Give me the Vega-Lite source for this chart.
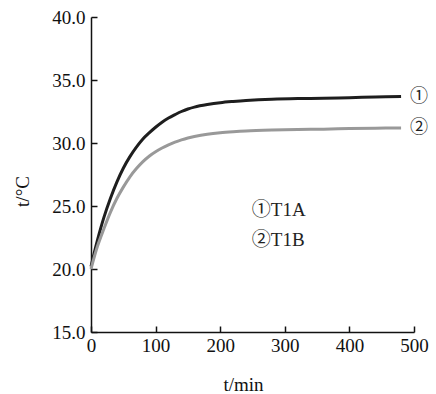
{
  "$schema": "https://vega.github.io/schema/vega-lite/v6.json",
  "width": 323,
  "height": 315,
  "autosize": {"type": "none"},
  "padding": {"left": 91, "top": 17, "right": 22, "bottom": 62},
  "background": "white",
  "config": {
    "view": {"stroke": null},
    "axis": {
      "grid": false,
      "domainColor": "#111111",
      "domainWidth": 1.5,
      "tickColor": "#111111",
      "tickWidth": 1.5,
      "tickSize": -6,
      "labelFlush": false,
      "labelOverlap": false,
      "labelFont": "Liberation Serif",
      "labelFontSize": 19,
      "labelColor": "#111111",
      "titleFont": "Liberation Serif",
      "titleFontSize": 19,
      "titleFontWeight": "normal",
      "titleColor": "#111111"
    }
  },
  "datasets": {
    "curves": [
      {"series": "T1A", "t": 0, "temp": 20.2},
      {"series": "T1A", "t": 10, "temp": 22.3},
      {"series": "T1A", "t": 20, "temp": 24.1},
      {"series": "T1A", "t": 30, "temp": 25.6},
      {"series": "T1A", "t": 40, "temp": 26.9},
      {"series": "T1A", "t": 50, "temp": 28.0},
      {"series": "T1A", "t": 60, "temp": 28.9},
      {"series": "T1A", "t": 70, "temp": 29.65},
      {"series": "T1A", "t": 80, "temp": 30.3},
      {"series": "T1A", "t": 90, "temp": 30.8},
      {"series": "T1A", "t": 100, "temp": 31.25},
      {"series": "T1A", "t": 110, "temp": 31.65},
      {"series": "T1A", "t": 120, "temp": 31.98},
      {"series": "T1A", "t": 130, "temp": 32.25},
      {"series": "T1A", "t": 140, "temp": 32.5},
      {"series": "T1A", "t": 150, "temp": 32.7},
      {"series": "T1A", "t": 160, "temp": 32.85},
      {"series": "T1A", "t": 180, "temp": 33.05},
      {"series": "T1A", "t": 200, "temp": 33.2},
      {"series": "T1A", "t": 220, "temp": 33.3},
      {"series": "T1A", "t": 240, "temp": 33.38},
      {"series": "T1A", "t": 280, "temp": 33.48},
      {"series": "T1A", "t": 320, "temp": 33.53},
      {"series": "T1A", "t": 360, "temp": 33.55},
      {"series": "T1A", "t": 400, "temp": 33.6},
      {"series": "T1A", "t": 440, "temp": 33.65},
      {"series": "T1A", "t": 480, "temp": 33.7},
      {"series": "T1B", "t": 0, "temp": 20.0},
      {"series": "T1B", "t": 10, "temp": 21.8},
      {"series": "T1B", "t": 20, "temp": 23.2},
      {"series": "T1B", "t": 30, "temp": 24.5},
      {"series": "T1B", "t": 40, "temp": 25.6},
      {"series": "T1B", "t": 50, "temp": 26.5},
      {"series": "T1B", "t": 60, "temp": 27.3},
      {"series": "T1B", "t": 70, "temp": 27.95},
      {"series": "T1B", "t": 80, "temp": 28.5},
      {"series": "T1B", "t": 90, "temp": 28.95},
      {"series": "T1B", "t": 100, "temp": 29.3},
      {"series": "T1B", "t": 110, "temp": 29.6},
      {"series": "T1B", "t": 120, "temp": 29.85},
      {"series": "T1B", "t": 130, "temp": 30.07},
      {"series": "T1B", "t": 140, "temp": 30.25},
      {"series": "T1B", "t": 150, "temp": 30.4},
      {"series": "T1B", "t": 160, "temp": 30.52},
      {"series": "T1B", "t": 180, "temp": 30.7},
      {"series": "T1B", "t": 200, "temp": 30.82},
      {"series": "T1B", "t": 220, "temp": 30.9},
      {"series": "T1B", "t": 240, "temp": 30.96},
      {"series": "T1B", "t": 280, "temp": 31.03},
      {"series": "T1B", "t": 320, "temp": 31.08},
      {"series": "T1B", "t": 360, "temp": 31.1},
      {"series": "T1B", "t": 400, "temp": 31.15},
      {"series": "T1B", "t": 440, "temp": 31.18},
      {"series": "T1B", "t": 480, "temp": 31.2}
    ],
    "endLabels": [
      {"label": "①", "t": 494, "temp": 33.65},
      {"label": "②", "t": 494, "temp": 31.2}
    ],
    "notes": [
      {"label": "①T1A", "t": 249, "temp": 24.7},
      {"label": "②T1B", "t": 249, "temp": 22.3}
    ]
  },
  "layer": [
    {
      "data": {"name": "curves"},
      "mark": {"type": "line", "strokeWidth": 3, "interpolate": "catmull-rom"},
      "encoding": {
        "x": {
          "field": "t",
          "type": "quantitative",
          "scale": {"domain": [0, 500], "nice": false},
          "axis": {
            "values": [0, 100, 200, 300, 400, 500],
            "format": "d",
            "labelPadding": 10,
            "title": "t/min",
            "titleX": 152,
            "titleY": 52,
            "titleBaseline": "middle",
            "titleAlign": "center"
          }
        },
        "y": {
          "field": "temp",
          "type": "quantitative",
          "scale": {"domain": [15, 40], "nice": false, "zero": false},
          "axis": {
            "values": [15, 20, 25, 30, 35, 40],
            "format": ".1f",
            "labelPadding": 12,
            "title": "t/°C",
            "titleX": -69,
            "titleY": 174,
            "titleAngle": -90,
            "titleBaseline": "middle",
            "titleAlign": "center"
          }
        },
        "color": {
          "field": "series",
          "type": "nominal",
          "scale": {"domain": ["T1A", "T1B"], "range": ["#1e1e1e", "#999999"]},
          "legend": null
        }
      }
    },
    {
      "data": {"name": "endLabels"},
      "mark": {"type": "text", "align": "left", "baseline": "middle", "font": "Noto Sans CJK SC", "fontSize": 18, "color": "#222222", "clip": false},
      "encoding": {
        "x": {"field": "t", "type": "quantitative"},
        "y": {"field": "temp", "type": "quantitative"},
        "text": {"field": "label"}
      }
    },
    {
      "data": {"name": "notes"},
      "mark": {"type": "text", "align": "left", "baseline": "middle", "font": "Liberation Serif, Noto Sans CJK SC", "fontSize": 19, "color": "#222222"},
      "encoding": {
        "x": {"field": "t", "type": "quantitative"},
        "y": {"field": "temp", "type": "quantitative"},
        "text": {"field": "label"}
      }
    }
  ]
}
